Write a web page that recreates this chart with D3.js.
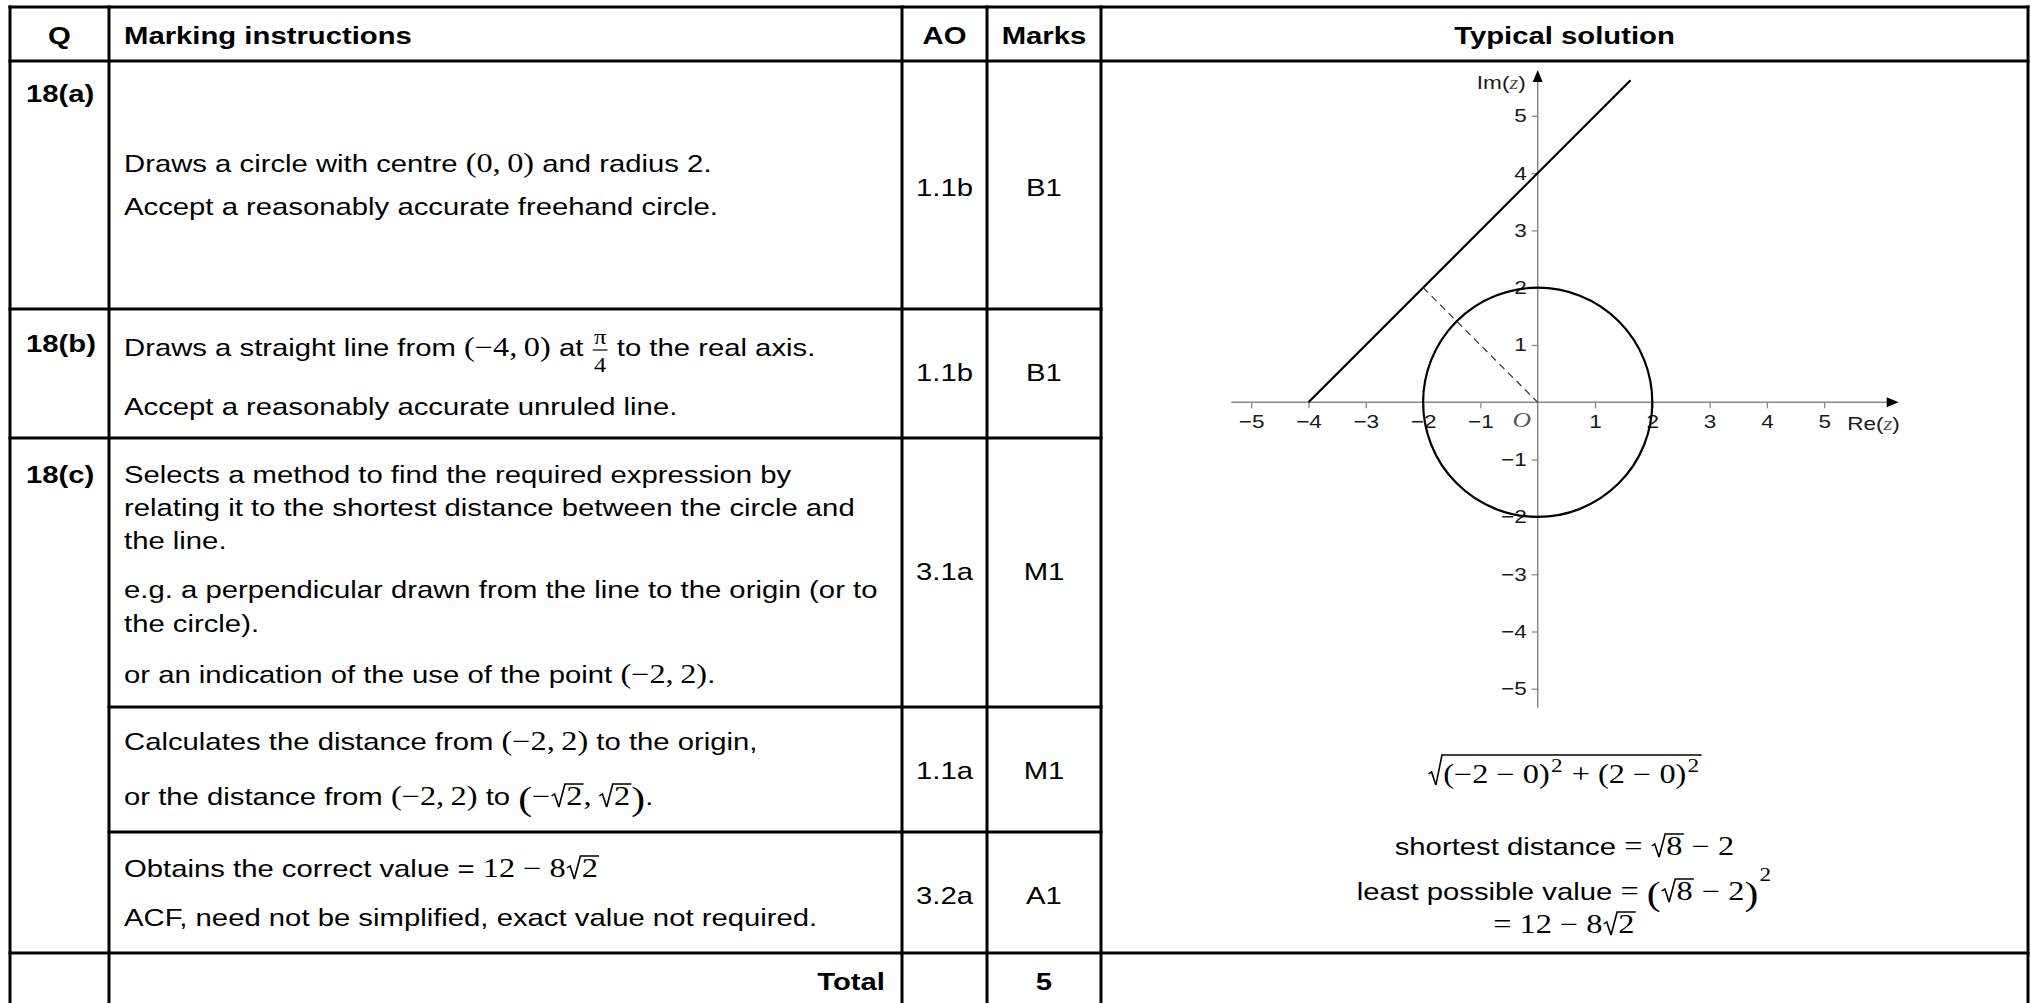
<!DOCTYPE html>
<html>
<head>
<meta charset="utf-8">
<script src="https://cdn.jsdelivr.net/npm/d3@7"></script>
<style>
  body { margin: 0; background: #fff; }
  text { white-space: pre; }
  .sans { font-family: 'Liberation Sans', Arial, sans-serif; font-size: 24px; fill: #000; }
  .bold { font-weight: bold; }
  .math { font-family: 'Liberation Serif', 'Times New Roman', serif; font-size: 26.5px; fill: #000; }
  .sup { font-size: 19px; }
  .big { font-size: 34px; }
  .frac { font-size: 20px; }
  .tick text { font-family: 'Liberation Sans', Arial, sans-serif; font-size: 18.5px; fill: #1a1a1a; }
  .tick line { stroke: #888; stroke-width: 1.3; }
</style>
</head>
<body>
<script>
// table content
var headers = ['Q', 'Marking instructions', 'AO', 'Marks', 'Typical solution'];
var questions = ['18(a)', '18(b)', '18(c)'];
var aoCodes = ['1.1b', '1.1b', '3.1a', '1.1a', '3.2a'];
var markCodes = ['B1', 'B1', 'M1', 'M1', 'A1'];
var totalMarks = '5';

var instructions = [
  [
    [['t', 'Draws a circle with centre '], ['m', '(0,\u20090)'], ['t', ' and radius 2.']],
    [['t', 'Accept a reasonably accurate freehand circle.']]
  ],
  [
    [['t', 'Draws a straight line from '], ['m', '(−4,\u20090)'], ['t', ' at '], ['fr', 'π', '4'], ['t', ' to the real axis.']],
    [['t', 'Accept a reasonably accurate unruled line.']]
  ],
  [
    [['t', 'Selects a method to find the required expression by']],
    [['t', 'relating it to the shortest distance between the circle and']],
    [['t', 'the line.']],
    [['t', 'e.g. a perpendicular drawn from the line to the origin (or to']],
    [['t', 'the circle).']],
    [['t', 'or an indication of the use of the point '], ['m', '(−2,\u20092)'], ['t', '.']]
  ],
  [
    [['t', 'Calculates the distance from '], ['m', '(−2,\u20092)'], ['t', ' to the origin,']],
    [['t', 'or the distance from '], ['m', '(−2,\u20092)'], ['t', ' to '], ['bp', '('], ['m', '−'], ['sq', [['m', '2']]], ['m', ',\u2009'], ['sq', [['m', '2']]], ['bp', ')'], ['t', '.']]
  ],
  [
    [['t', 'Obtains the correct value = '], ['m', '12 − 8'], ['sq', [['m', '2']]]],
    [['t', 'ACF, need not be simplified, exact value not required.']]
  ]
];

var solution = [
  [['sq', [['m', '(−2 − 0)'], ['sup', '2'], ['m', ' + (2 − 0)'], ['sup', '2']], true]],
  [['t', 'shortest distance '], ['m', '= '], ['sq', [['m', '8']]], ['m', ' − 2']],
  [['t', 'least possible value '], ['m', '= '], ['bp', '('], ['sq', [['m', '8']]], ['m', ' − 2'], ['bp', ')'], ['sup', '2', -19]],
  [['m', '= 12 − 8'], ['sq', [['m', '2']]]]
];

// argand diagram
var xTicks = [-5, -4, -3, -2, -1, 1, 2, 3, 4, 5];
var yTicks = [-5, -4, -3, -2, -1, 1, 2, 3, 4, 5];
var reAxisExtent = [-5.35, 6.3];
var imAxisExtent = [-5.33, 5.8];
var circleCentre = [0, 0];
var circleRadius = 2;
var lineStart = [-4, 0];
var lineEnd = [1.62, 5.62];
var perpFoot = [-2, 2];

// layout
var W = 2031, H = 1003;
var SX = 1.22; // glyphs in the reference are drawn wider than tall
var colX = [10, 109, 902, 987, 1101, 2028];
var rowY = [7, 61, 309, 438, 707, 832, 953];
var qBase = [102, 352, 483];
var aoBase = [196, 381, 580, 779, 904];
var instrBase = [[172, 215], [356, 415], [483, 516, 549, 598, 632, 683], [750, 805], [877, 926]];
var solBase = [783, 855, 900, 933];

var svg = d3.select('body').append('svg')
  .attr('width', W)
  .attr('height', H);

function label(parent, cls, x, y, anchor, s) {
  return parent.append('text')
    .attr('class', cls)
    .attr('text-anchor', anchor)
    .attr('transform', 'translate(' + x + ',' + y + ') scale(' + SX + ',1)')
    .text(s);
}

function layout(g, segs, x) {
  segs.forEach(function(s) {
    var type = s[0], t;
    if (type === 't' || type === 'm') {
      t = g.append('text').attr('class', type === 't' ? 'sans' : 'math').attr('x', x).text(s[1]);
      x += t.node().getComputedTextLength();
    } else if (type === 'sup') {
      t = g.append('text').attr('class', 'math sup').attr('x', x + 1).attr('y', s[2] || -11).text(s[1]);
      x += t.node().getComputedTextLength() + 2;
    } else if (type === 'bp') {
      t = g.append('text').attr('class', 'math big').attr('x', x).attr('y', 5).text(s[1]);
      x += t.node().getComputedTextLength();
    } else if (type === 'fr') {
      var num = g.append('text').attr('class', 'math frac').attr('y', -12).text(s[1]);
      var den = g.append('text').attr('class', 'math frac').attr('y', 16).text(s[2]);
      var w = Math.max(num.node().getComputedTextLength(), den.node().getComputedTextLength()) + 4;
      num.attr('x', x + w / 2).attr('text-anchor', 'middle');
      den.attr('x', x + w / 2).attr('text-anchor', 'middle');
      g.append('line').attr('x1', x + 1).attr('x2', x + w - 1).attr('y1', -6).attr('y2', -6)
        .attr('stroke', '#000').attr('stroke-width', 1.2);
      x += w;
    } else if (type === 'sq') {
      var x0 = x, rw = 13;
      var top = s[2] ? -28 : -21;
      var end = layout(g, s[1], x + rw);
      g.append('path')
        .attr('d', 'M' + (x0 + 1) + ',-9 L' + (x0 + 3.5) + ',-11 L' + (x0 + 7) + ',2 L' + (x0 + rw - 1) + ',' + top + ' L' + (end + 1) + ',' + top)
        .attr('fill', 'none').attr('stroke', '#000').attr('stroke-width', 1.3);
      x = end + 1;
    }
  });
  return x;
}

function rich(segs, x, y, anchor) {
  var g = svg.append('g');
  var w = layout(g, segs, 0) * SX;
  var shift = anchor === 'middle' ? -w / 2 : anchor === 'end' ? -w : 0;
  g.attr('transform', 'translate(' + (x + shift) + ',' + y + ') scale(' + SX + ',1)');
  return g;
}

// headers
var hx = [(colX[0] + colX[1]) / 2, 124, (colX[2] + colX[3]) / 2, (colX[3] + colX[4]) / 2, (colX[4] + colX[5]) / 2];
headers.forEach(function(d, i) {
  label(svg, 'sans bold', hx[i], 44, i === 1 ? 'start' : 'middle', d);
});

questions.forEach(function(d, i) {
  label(svg, 'sans bold', 26, qBase[i], 'start', d);
});

aoCodes.forEach(function(d, i) {
  label(svg, 'sans', (colX[2] + colX[3]) / 2, aoBase[i], 'middle', d);
});

markCodes.forEach(function(d, i) {
  label(svg, 'sans', (colX[3] + colX[4]) / 2, aoBase[i], 'middle', d);
});

label(svg, 'sans bold', 885, 990, 'end', 'Total');
label(svg, 'sans bold', (colX[3] + colX[4]) / 2, 990, 'middle', totalMarks);

instructions.forEach(function(row, r) {
  row.forEach(function(line, k) {
    rich(line, 124, instrBase[r][k], 'start');
  });
});

solution.forEach(function(line, k) {
  rich(line, (colX[4] + colX[5]) / 2, solBase[k], 'middle');
});

// grid lines
var grid = svg.append('g').attr('stroke', '#000').attr('stroke-width', 3);
var hLines = [
  [colX[0], rowY[0], colX[5]], [colX[0], rowY[1], colX[5]],
  [colX[0], rowY[2], colX[4]], [colX[0], rowY[3], colX[4]],
  [colX[1], rowY[4], colX[4]], [colX[1], rowY[5], colX[4]],
  [colX[0], rowY[6], colX[5]]
];
hLines.forEach(function(l) {
  grid.append('line').attr('x1', l[0] - 1.5).attr('x2', l[2] + 1.5).attr('y1', l[1]).attr('y2', l[1]);
});
colX.forEach(function(cx) {
  grid.append('line').attr('x1', cx).attr('x2', cx).attr('y1', rowY[0] - 1.5).attr('y2', H);
});

// argand diagram
var x = d3.scaleLinear().domain([-5, 5]).range([1251.2, 1824.2]);
var y = d3.scaleLinear().domain([-5, 5]).range([688.8, 115.8]);
var plot = svg.append('g');

plot.append('line')
  .attr('x1', x(reAxisExtent[0])).attr('x2', x(reAxisExtent[1]) - 8)
  .attr('y1', y(0)).attr('y2', y(0))
  .attr('stroke', '#888').attr('stroke-width', 1.5);
plot.append('line')
  .attr('x1', x(0)).attr('x2', x(0))
  .attr('y1', y(imAxisExtent[0])).attr('y2', y(imAxisExtent[1]) + 8)
  .attr('stroke', '#888').attr('stroke-width', 1.5);

var ax = x(reAxisExtent[1]), ay = y(0);
plot.append('path').attr('d', 'M' + ax + ',' + ay + ' L' + (ax - 12) + ',' + (ay - 5) + ' L' + (ax - 12) + ',' + (ay + 5) + ' Z').attr('fill', '#000');
var bx = x(0), by = y(imAxisExtent[1]);
plot.append('path').attr('d', 'M' + bx + ',' + by + ' L' + (bx - 5) + ',' + (by + 12) + ' L' + (bx + 5) + ',' + (by + 12) + ' Z').attr('fill', '#000');

plot.append('g')
  .attr('transform', 'translate(0,' + y(0) + ')')
  .call(d3.axisBottom(x).tickValues(xTicks).tickSize(6).tickPadding(7).tickSizeOuter(0))
  .call(function(g) { g.select('.domain').remove(); })
  .attr('font-family', null).attr('font-size', null)
  .selectAll('.tick text').attr('transform', 'scale(' + SX + ',1)');

plot.append('g')
  .attr('transform', 'translate(' + x(0) + ',0)')
  .call(d3.axisLeft(y).tickValues(yTicks).tickSize(6).tickPadding(3).tickSizeOuter(0))
  .call(function(g) { g.select('.domain').remove(); })
  .attr('font-family', null).attr('font-size', null)
  .selectAll('.tick text').attr('transform', 'scale(' + SX + ',1)');

plot.append('text')
  .attr('text-anchor', 'middle')
  .attr('transform', 'translate(' + (x(0) - 16) + ',' + (y(0) + 25) + ') scale(' + SX + ',1)')
  .style('font-family', "'Liberation Serif', serif").style('font-style', 'italic')
  .style('font-size', '21px').style('fill', '#555')
  .text('O');

function axisLabel(txt, px, py, anchor) {
  var t = plot.append('text')
    .attr('text-anchor', anchor)
    .attr('transform', 'translate(' + px + ',' + py + ') scale(' + SX + ',1)')
    .style('font-family', "'Liberation Sans', Arial, sans-serif").style('font-size', '18.5px').style('fill', '#1a1a1a');
  t.append('tspan').text(txt + '(');
  t.append('tspan').style('font-family', "'Liberation Serif', serif").style('font-style', 'italic').style('fill', '#555').text('z');
  t.append('tspan').text(')');
}
axisLabel('Im', x(0) - 12, 89, 'end');
axisLabel('Re', x(5) + 23, 430, 'start');

plot.append('circle')
  .attr('cx', x(circleCentre[0])).attr('cy', y(circleCentre[1]))
  .attr('r', x(circleRadius) - x(0))
  .attr('fill', 'none').attr('stroke', '#000').attr('stroke-width', 2.2);

plot.append('line')
  .attr('x1', x(lineStart[0])).attr('y1', y(lineStart[1]))
  .attr('x2', x(lineEnd[0])).attr('y2', y(lineEnd[1]))
  .attr('stroke', '#000').attr('stroke-width', 2.2);

plot.append('line')
  .attr('x1', x(perpFoot[0])).attr('y1', y(perpFoot[1]))
  .attr('x2', x(0)).attr('y2', y(0))
  .attr('stroke', '#333').attr('stroke-width', 1.2).attr('stroke-dasharray', '7,5');
</script>
</body>
</html>
